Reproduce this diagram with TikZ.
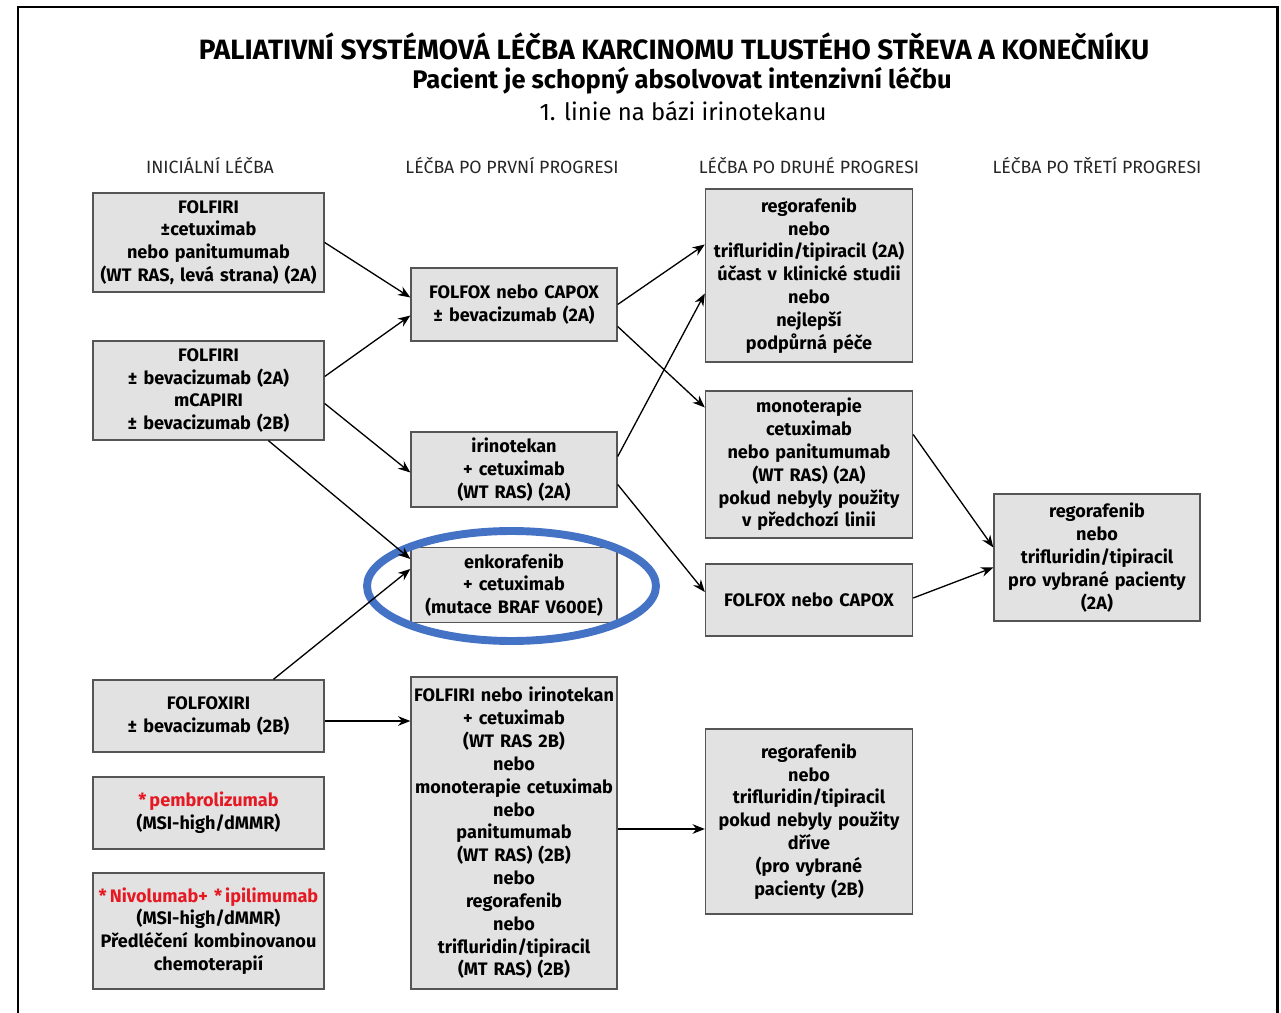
\documentclass[tikz,border=0pt]{standalone}
\usepackage{fontspec}
\setmainfont{Fira Sans}
\usetikzlibrary{calc,arrows.meta}

\definecolor{boxgray}{RGB}{226,226,226}
\definecolor{boxline}{RGB}{85,85,85}
\definecolor{ovalblue}{RGB}{68,114,196}
\definecolor{redtxt}{RGB}{230,25,35}

\newcommand{\boxfont}{\bfseries\fontsize{10.3}{13}\selectfont}

\tikzstyle{lecba} = [rectangle, draw=boxline, line width=0.8pt, fill=boxgray, 
    text width=4.62cm, inner xsep=0pt, text centered, font=\boxfont]
\tikzstyle{lecbad} = [lecba, text width=4.12cm]
\tikzstyle{lecbadd} = [lecba, text width=4.14cm]
\tikzstyle{hlava} = [font=\fontsize{10.1}{12}\selectfont, text=black!85]
\tikzstyle{pipa} = [draw, line width=0.75pt, -{Stealth[length=7pt,width=5.5pt]}]

\begin{document}
\begin{tikzpicture}[x=0.02cm, y=-0.02cm]
	\useasboundingbox (0,0) rectangle (1281,1013);
	\draw [line width=1.7pt] (18,1013) -- (18,7) -- (1277,7) -- (1277,1013);
	%
	\node [font=\bfseries\fontsize{15.9}{18}\selectfont] (tit) at (674,46) {PALIATIVNÍ SYSTÉMOVÁ LÉČBA KARCINOMU TLUSTÉHO STŘEVA A KONEČNÍKU};
	\node [font=\bfseries\fontsize{14.5}{17}\selectfont] (tib) at (682,81) {Pacient je schopný absolvovat intenzivní léčbu};
	\node [font=\fontsize{13.6}{16}\selectfont] (tic) at (683,111) {1. linie na bázi irinotekanu};
	%
	\node [hlava] (hla) at (210,166) {INICIÁLNÍ LÉČBA};
	\node [hlava] (hlb) at (512,166) {LÉČBA PO PRVNÍ PROGRESI};
	\node [hlava] (hlc) at (809,166) {LÉČBA PO DRUHÉ PROGRESI};
	\node [hlava] (hld) at (1097,166) {LÉČBA PO TŘETÍ PROGRESI};
	%
	\node [lecba, minimum height=1.98cm] (ila) at (208.5,242.5) {FOLFIRI\\ ±cetuximab\\ nebo panitumumab\\ (WT RAS, levá strana) (2A)};
	\node [lecba, minimum height=1.98cm] (ilb) at (208.5,390.5) {FOLFIRI\\ ± bevacizumab (2A)\\ mCAPIRI\\ ± bevacizumab (2B)};
	\node [lecba, minimum height=1.44cm] (ilc) at (208.5,716) {FOLFOXIRI\\ ± bevacizumab (2B)};
	\node [lecba, minimum height=1.44cm] (ild) at (208.5,813) {\textcolor{redtxt}{*\,pembrolizumab}\\ (MSI-high/dMMR)};
	\node [lecba, minimum height=2.32cm] (ile) at (208.5,931) {\textcolor{redtxt}{*\,Nivolumab+ *\,ipilimumab}\\ (MSI-high/dMMR)\\ Předléčení kombinovanou\\ chemoterapií};
	%
	\node [lecbad, minimum height=1.46cm] (ppa) at (514,304.5) {FOLFOX nebo CAPOX\\ ± bevacizumab (2A)};
	\node [lecbad, minimum height=1.46cm] (ppb) at (514,469.5) {irinotekan\\ + cetuximab\\ (WT RAS) (2A)};
	\node [lecbad, minimum height=1.44cm] (ppc) at (514,585) {enkorafenib\\ + cetuximab\\ (mutace BRAF V600E)};
	\node [lecbad, minimum height=6.24cm] (ppd) at (514,833) {FOLFIRI nebo irinotekan\\ + cetuximab\\ (WT RAS 2B)\\ nebo\\ monoterapie cetuximab\\ nebo\\ panitumumab\\ (WT RAS) (2B)\\ nebo\\ regorafenib\\ nebo\\ trifluridin/tipiracil\\ (MT RAS) (2B)};
	%
	\node [lecbadd, minimum height=3.46cm] (pda) at (809,275.5) {regorafenib\\ nebo\\ trifluridin/tipiracil (2A)\\ účast v klinické studii\\ nebo\\ nejlepší\\ podpůrná péče};
	\node [lecbadd, minimum height=2.94cm] (pdb) at (809,464.5) {monoterapie\\ cetuximab\\ nebo panitumumab\\ (WT RAS) (2A)\\ pokud nebyly použity\\ v předchozí linii};
	\node [lecbadd, minimum height=1.44cm] (pdc) at (809,600) {FOLFOX nebo CAPOX};
	\node [lecbadd, minimum height=3.70cm] (pdd) at (809,821.5) {regorafenib\\ nebo\\ trifluridin/tipiracil\\ pokud nebyly použity\\ dříve\\ (pro vybrané\\ pacienty (2B)};
	%
	\node [lecbad, minimum height=2.54cm] (pta) at (1097,557.5) {regorafenib\\ nebo\\ trifluridin/tipiracil\\ pro vybrané pacienty\\ (2A)};
	%
	\draw [ovalblue, line width=4.5pt] (511.5,586) ellipse [x radius=2.89cm, y radius=1.1cm];
	%
	\draw [pipa] (ila.east) -- ($(ppa.west)+(0,-7)$);
	\draw [pipa] ($(ilb.east)+(0,-14)$) -- ($(ppa.west)+(0,11)$);
	\draw [pipa] ($(ilb.east)+(0,13)$) -- ($(ppb.west)+(0,3)$);
	\draw [pipa] ($(ilb.south)+(60,0)$) -- ($(ppc.west)+(0,-26)$);
	\draw [pipa] ($(ilc.north)+(65,0)$) -- ($(ppc.west)+(0,-16)$);
	\draw [pipa] ($(ilc.east)+(0,5)$) -- ($(ilc.east -| ppd.west)+(0,5)$);
	%
	\draw [pipa] (ppa.east) -- ($(pda.west)+(0,-31)$);
	\draw [pipa] ($(ppa.east)+(0,22)$) -- ($(pdb.west)+(0,-57)$);
	\draw [pipa] ($(ppb.east)+(0,-13)$) -- ($(pda.west)+(0,18)$);
	\draw [pipa] ($(ppb.east)+(0,15)$) -- ($(pdc.west)+(0,-8)$);
	\draw [pipa] ($(ppd.east)+(0,-4)$) -- ($(ppd.east -| pdd.west)+(0,-4)$);
	%
	\draw [pipa] ($(pdb.east)+(0,-30)$) -- ($(pta.west)+(0,-10)$);
	\draw [pipa] ($(pdc.east)+(0,-2)$) -- ($(pta.west)+(0,10)$);
\end{tikzpicture}
\end{document}
